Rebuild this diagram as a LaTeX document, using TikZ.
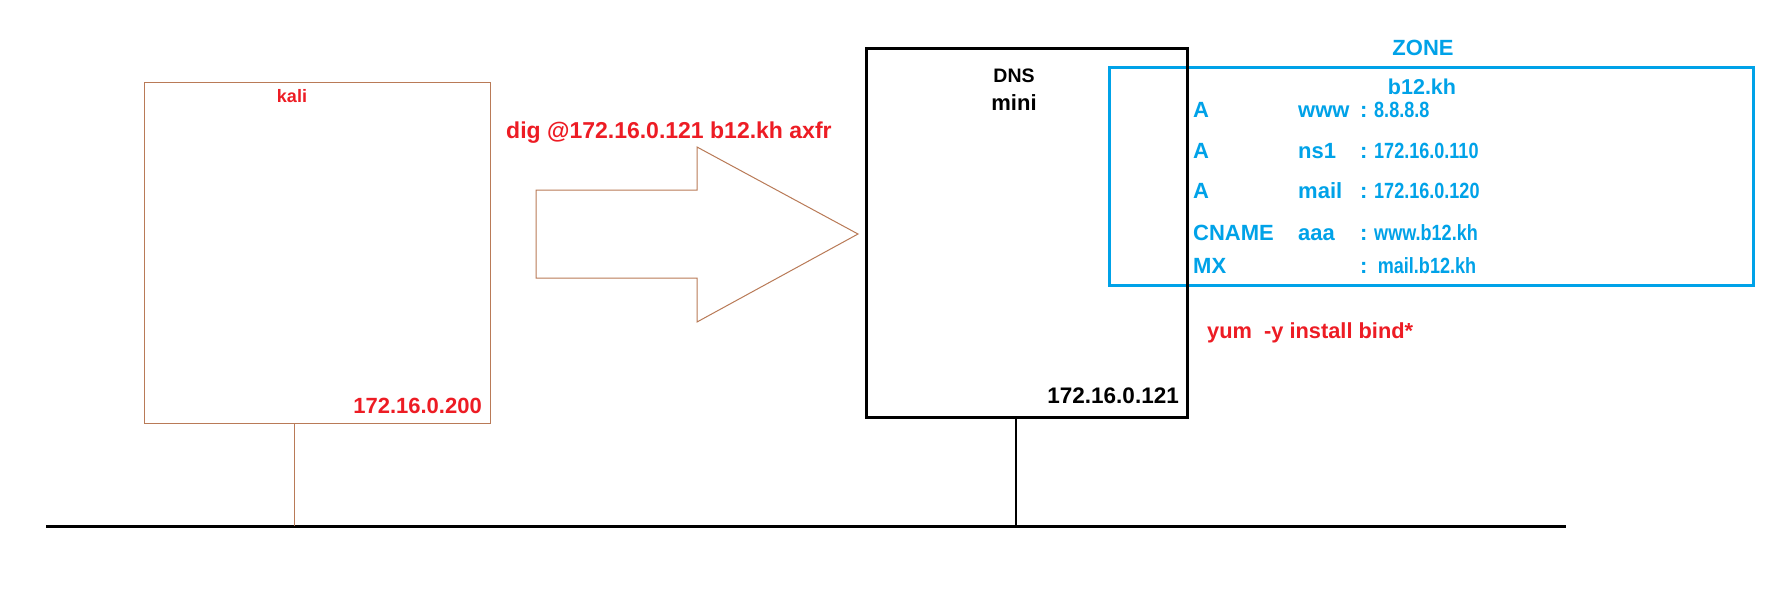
\documentclass[tikz,border=0pt]{standalone}
\usepackage{fontspec}
\setmainfont{Liberation Sans}
\newfontfamily\valuefont{Liberation Sans}[FakeStretch=0.82]
\usetikzlibrary{positioning}
\definecolor{paintred}{RGB}{237,28,36}
\definecolor{paintblue}{RGB}{0,162,232}
\definecolor{paintbrown}{RGB}{185,122,87}
\tikzset{
  lbl/.style={inner sep=0pt, font=\bfseries\fontsize{#1}{#1}\selectfont},
  redlbl/.style={lbl=#1, text=paintred},
  bluelbl/.style={lbl=#1, text=paintblue},
  valuelbl/.style={inner sep=0pt, text=paintblue, font=\valuefont\bfseries\fontsize{#1}{#1}\selectfont},
  host/.style={draw=paintbrown, line width=1pt, inner sep=0pt},
  server/.style={draw=black, line width=3pt, inner sep=0pt},
  zonebox/.style={draw=paintblue, line width=3pt, inner sep=0pt}
}
\begin{document}
\begin{tikzpicture}[x=1pt, y=-1pt]
\useasboundingbox (0,0) rectangle (1781,598);
\fill[white] (0,0) rectangle (1781,598);
% network
\coordinate (lanW) at (46,526);
\coordinate (lanE) at (1566,526);
\draw[line width=3pt] (lanW) -- (lanE);
% kali host
\node[host, minimum width=346pt, minimum height=341pt] (kali) at (317,252.5) {};
\node[redlbl=18, anchor=base] (kaliname) at (292,102) {kali};
\node[redlbl=22, anchor=base east] (kaliip) at (482,413) {172.16.0.200};
\coordinate (kaliport) at (294,526);
\draw[paintbrown, line width=1pt] (kaliport |- kali.south) -- (kaliport);
% transfer arrow
\draw[paintbrown, line width=1pt] (536,190) -- (697,190) -- (697,147) -- (858,234)
      -- (697,322) -- (697,278) -- (536,278) -- cycle;
\node[redlbl=23, anchor=base west] (dig) at (506,138) {dig @172.16.0.121 b12.kh axfr};
% zone data
\node[zonebox, minimum width=644pt, minimum height=218pt] (zone) at (1431,176) {};
\node[bluelbl=22, anchor=base] (zonetitle) at (1423,55) {ZONE};
\node[bluelbl=21.5, anchor=base] (zonename) at (1422,94) {b12.kh};
\foreach \t/\n/\v/\y [count=\i] in {A/www/8.8.8.8/117, A/ns1/172.16.0.110/158,
    A/mail/172.16.0.120/198, CNAME/aaa/www.b12.kh/240, MX//{\,mail.b12.kh}/273}
  {
  \node[bluelbl=22, anchor=base west] (type\i) at (1193,\y) {\t};
  \node[bluelbl=22, anchor=base west] (name\i) at (1298,\y) {\n};
  \node[bluelbl=22, anchor=base west] (colon\i) at (1360,\y) {:};
  \node[valuelbl=22, anchor=base west] (value\i) at (1374,\y) {\v};
  }
% dns server
\node[server, minimum width=321pt, minimum height=369pt] (dns) at (1026.5,232.5) {};
\node[lbl=19.5, anchor=base] (dnsname) at (1014,82) {DNS};
\node[lbl=22, anchor=base] (dnshost) at (1014,110) {mini};
\node[lbl=22.5, anchor=base east] (dnsip) at (1179,403) {172.16.0.121};
\coordinate (dnsport) at (1016,526);
\draw[line width=2.5pt] (dnsport |- dns.south) -- (dnsport);
\node[redlbl=21.8, anchor=base west] (yum) at (1207,338) {yum\ \ -y install bind*};
\end{tikzpicture}
\end{document}
